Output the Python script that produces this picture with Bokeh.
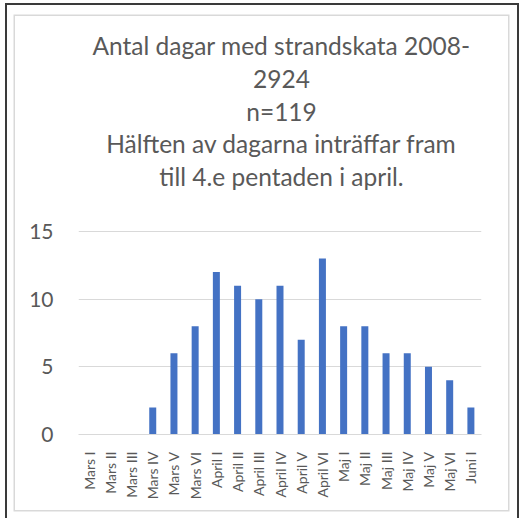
from math import pi
from bokeh.plotting import figure
from bokeh.models import Range1d, Label
from bokeh.embed import file_html
from bokeh.resources import INLINE

categories = ["Mars I", "Mars II", "Mars III", "Mars IV", "Mars V", "Mars VI",
              "April I", "April II", "April III", "April IV", "April V", "April VI",
              "Maj I", "Maj II", "Maj III", "Maj IV", "Maj V", "Maj VI", "Juni I"]
values = [0, 0, 0, 2, 6, 8, 12, 11, 10, 11, 7, 13, 8, 8, 6, 6, 5, 4, 2]
y_ticks = [0, 5, 10, 15]
title_lines = ["Antal dagar med strandskata 2008-", "2924", "n=119",
               "Hälften av dagarna inträffar fram", "till 4.e pentaden i april."]

FONT = "Lato"
GRAY = "#595959"
W, H = 514, 515
LEFT, RIGHT, BOTTOM = 73, 38, 84
PX_PER_UNIT = 203 / 15.0            # 15 units between gridlines 0 and 15
frame_h = H - BOTTOM                 # frame runs from the top of the canvas
y_top = frame_h / PX_PER_UNIT        # extra room above 15 holds the title

p = figure(x_range=categories, y_range=Range1d(0, y_top), width=W, height=H,
           output_backend="svg", toolbar_location=None,
           min_border_left=LEFT, min_border_right=RIGHT,
           min_border_top=0, min_border_bottom=BOTTOM)
p.margin = (3, 0, 0, 5)
p.border_fill_color = None
p.background_fill_color = None
p.styles = {
    "background-color": "white",
    "box-shadow": ("inset 2px 0 0 0 #3a3a3a, "
                   "inset 0 2px 0 0 #3a3a3a, "
                   "inset -2px 0 0 0 #3a3a3a, "
                   "inset -0.5px 2.5px 0 9px white, "
                   "inset -0.5px 2.5px 0 10.5px #d9d9d9"),
}

p.vbar(x=categories, top=values, width=0.33, fill_color="#4472c4", line_color=None)

p.outline_line_color = None
p.xgrid.visible = False
p.ygrid.grid_line_color = "#d9d9d9"
p.ygrid.grid_line_width = 1

p.yaxis.ticker = y_ticks
p.yaxis.axis_line_color = None
p.yaxis.major_tick_line_color = None
p.yaxis.minor_tick_line_color = None
p.yaxis.major_label_text_font = FONT
p.yaxis.major_label_text_font_size = "21px"
p.yaxis.major_label_text_color = GRAY
p.yaxis.major_label_standoff = 19

p.xaxis.axis_line_color = "#d9d9d9"
p.xaxis.major_tick_line_color = None
p.xaxis.minor_tick_line_color = None
p.xaxis.major_label_orientation = pi / 2
p.xaxis.major_label_text_font = FONT
p.xaxis.major_label_text_font_size = "14px"
p.xaxis.major_label_text_color = GRAY
p.xaxis.major_label_standoff = 11

# title lines, baselines measured from the frame bottom (screen px)
baselines = [389, 356, 323, 291, 258]
for t, yy in zip(title_lines, baselines):
    p.add_layout(Label(x=203, y=yy, x_units="screen", y_units="screen", text=t,
                       text_align="center", text_baseline="alphabetic",
                       text_font=FONT, text_font_size="24.5px", text_color=GRAY))

open("out.html", "w").write(file_html(p, INLINE))
